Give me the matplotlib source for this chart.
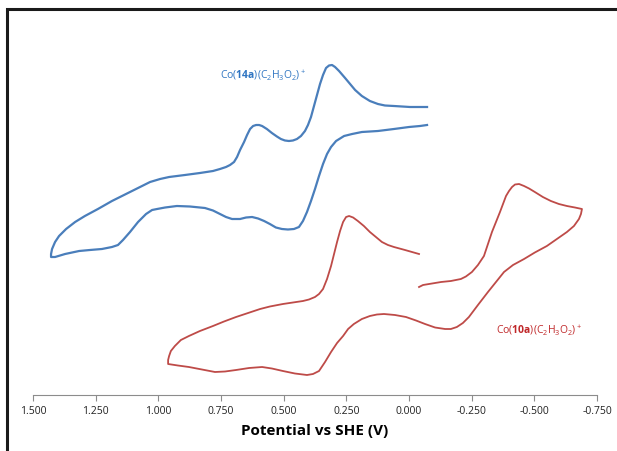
import matplotlib
matplotlib.use('Agg')
import matplotlib.pyplot as plt
from matplotlib.patches import Rectangle

plt.rcParams['font.family'] = ['Open Sans', 'DejaVu Sans']
plt.rcParams['mathtext.fontset'] = 'custom'
plt.rcParams['mathtext.rm'] = 'Open Sans'
plt.rcParams['mathtext.bf'] = 'Open Sans:bold'
plt.rcParams['mathtext.it'] = 'Open Sans:italic'

# Co(14a) voltammogram: potential (V vs SHE) and current (arb. units)
blue_e = [-0.072, -0.004, 0.060, 0.096, 0.124, 0.156, 0.188, 0.215, 0.235, 0.255,
          0.279, 0.295, 0.307, 0.319, 0.331, 0.343, 0.355, 0.367, 0.379, 0.391,
          0.403, 0.415, 0.431, 0.447, 0.463, 0.479, 0.495, 0.511, 0.527, 0.547,
          0.567, 0.586, 0.598, 0.610, 0.622, 0.634, 0.646, 0.658, 0.674, 0.686,
          0.698, 0.714, 0.730, 0.754, 0.782, 0.834, 0.894, 0.957, 0.993, 1.033,
          1.081, 1.129, 1.185, 1.241, 1.293, 1.332, 1.368, 1.396, 1.412, 1.424,
          1.428, 1.428,
          1.412, 1.372, 1.316, 1.273, 1.225, 1.185, 1.161, 1.141, 1.113, 1.081,
          1.049, 1.025, 1.005, 0.973, 0.926, 0.874, 0.814, 0.782, 0.754, 0.730,
          0.706, 0.674, 0.650, 0.626, 0.602, 0.578, 0.555, 0.531, 0.507, 0.483,
          0.459, 0.439, 0.423, 0.407, 0.391, 0.375, 0.359, 0.343, 0.327, 0.311,
          0.291, 0.259, 0.227, 0.188, 0.124, 0.060, 0.000, -0.044, -0.072]
blue_i = [2.88, 2.88, 2.89, 2.895, 2.91, 2.94, 2.99, 3.05, 3.11, 3.17,
          3.24, 3.28, 3.30, 3.295, 3.27, 3.20, 3.11, 3.00, 2.89, 2.78,
          2.70, 2.64, 2.59, 2.56, 2.545, 2.54, 2.545, 2.56, 2.585, 2.62,
          2.66, 2.69, 2.70, 2.70, 2.69, 2.66, 2.60, 2.53, 2.45, 2.38,
          2.33, 2.30, 2.28, 2.26, 2.24, 2.22, 2.20, 2.18, 2.16, 2.13,
          2.07, 2.01, 1.94, 1.86, 1.79, 1.73, 1.66, 1.59, 1.53, 1.46,
          1.41, 1.38,
          1.38, 1.41, 1.44, 1.45, 1.46, 1.48, 1.50, 1.55, 1.63, 1.73,
          1.81, 1.85, 1.86, 1.875, 1.89, 1.885, 1.87, 1.845, 1.81, 1.78,
          1.76, 1.76, 1.775, 1.78, 1.765, 1.74, 1.71, 1.675, 1.66, 1.655,
          1.66, 1.68, 1.74, 1.83, 1.94, 2.06, 2.19, 2.31, 2.41, 2.48,
          2.54, 2.59, 2.61, 2.63, 2.64, 2.66, 2.68, 2.69, 2.70]

# Co(10a) voltammogram
red_e = [-0.040, 0.016, 0.060, 0.084, 0.108, 0.132, 0.156, 0.180, 0.204, 0.223,
         0.239, 0.251, 0.263, 0.275, 0.287, 0.299, 0.311, 0.327, 0.343, 0.359,
         0.375, 0.399, 0.423, 0.463, 0.503, 0.555, 0.594, 0.642, 0.690, 0.738,
         0.782, 0.834, 0.878, 0.910, 0.934, 0.950, 0.957, 0.961, 0.961,
         0.922, 0.878, 0.826, 0.774, 0.734, 0.690, 0.638, 0.586, 0.547, 0.503,
         0.455, 0.407, 0.383, 0.359, 0.335, 0.311, 0.287, 0.263, 0.243, 0.220,
         0.188, 0.156, 0.128, 0.100, 0.056, 0.012, -0.028, -0.064, -0.104, -0.144,
         -0.167, -0.191, -0.215, -0.239, -0.275, -0.315, -0.347, -0.379, -0.415, -0.459,
         -0.502, -0.550, -0.590, -0.630, -0.658, -0.678, -0.686, -0.690,
         -0.662, -0.630, -0.598, -0.566, -0.534, -0.502, -0.479, -0.459, -0.439, -0.423,
         -0.411, -0.399, -0.387, -0.375, -0.363, -0.347, -0.331, -0.315, -0.299, -0.275,
         -0.251, -0.227, -0.207, -0.167, -0.128, -0.092, -0.056, -0.048, -0.040]
red_i = [1.41, 1.45, 1.48, 1.50, 1.53, 1.58, 1.63, 1.69, 1.74, 1.775,
         1.79, 1.78, 1.73, 1.64, 1.53, 1.41, 1.29, 1.16, 1.06, 1.01,
         0.98, 0.955, 0.94, 0.925, 0.91, 0.885, 0.86, 0.82, 0.78, 0.735,
         0.69, 0.64, 0.59, 0.55, 0.49, 0.44, 0.39, 0.35, 0.31,
         0.295, 0.28, 0.255, 0.23, 0.235, 0.25, 0.27, 0.28, 0.265, 0.24,
         0.215, 0.20, 0.21, 0.24, 0.33, 0.43, 0.52, 0.59, 0.66, 0.71,
         0.76, 0.79, 0.805, 0.81, 0.80, 0.78, 0.745, 0.71, 0.675, 0.66,
         0.66, 0.68, 0.72, 0.78, 0.90, 1.03, 1.13, 1.23, 1.30, 1.36,
         1.425, 1.49, 1.56, 1.63, 1.69, 1.76, 1.81, 1.86,
         1.875, 1.89, 1.91, 1.94, 1.98, 2.03, 2.065, 2.09, 2.11, 2.105,
         2.08, 2.04, 1.99, 1.91, 1.83, 1.73, 1.63, 1.51, 1.39, 1.30,
         1.23, 1.185, 1.16, 1.14, 1.13, 1.115, 1.10, 1.09, 1.08]

xticks = [1.5, 1.25, 1.0, 0.75, 0.5, 0.25, 0.0, -0.25, -0.5, -0.75]

fig = plt.figure(figsize=(6.17, 4.52), dpi=100)
ax = fig.add_axes([33 / 617, 56 / 452, 564 / 617, 376 / 452])

ax.plot(blue_e, blue_i, color='#4a7ebb', lw=1.6, solid_joinstyle='round')
ax.plot(red_e, red_i, color='#be4b48', lw=1.3, solid_joinstyle='round')

ax.text(0.58, 3.20, r'Co($\mathbf{14a}$)(C$_2$H$_3$O$_2$)$^+$', color='#2f75c2',
        fontsize=7.5, ha='center', va='center')
ax.text(-0.52, 0.65, r'Co($\mathbf{10a}$)(C$_2$H$_3$O$_2$)$^+$', color='#c0282a',
        fontsize=7.5, ha='center', va='center')

ax.set_xlim(1.5, -0.75)
ax.set_ylim(0, 3.76)
ax.set_xticks(xticks)
ax.set_xticklabels(['%.3f' % t for t in xticks])
ax.set_yticks([])
for s in ['left', 'right', 'top']:
    ax.spines[s].set_visible(False)
ax.spines['bottom'].set_color('#8c8c8c')
ax.spines['bottom'].set_linewidth(0.8)
ax.tick_params(axis='x', colors='#8c8c8c', length=4, width=0.8, labelsize=7.5,
               labelcolor='#222222', pad=3)
ax.set_xlabel('Potential vs SHE (V)', fontsize=11, fontweight='bold', labelpad=5)

# outer frame of the chart area
fig.patches.append(Rectangle((6.5 / 617, -0.1), 1.2, 1 - 10 / 452 + 0.1,
                             transform=fig.transFigure, fill=False,
                             edgecolor='#1a1a1a', lw=2.2))

fig.savefig('out.png', dpi=100)
